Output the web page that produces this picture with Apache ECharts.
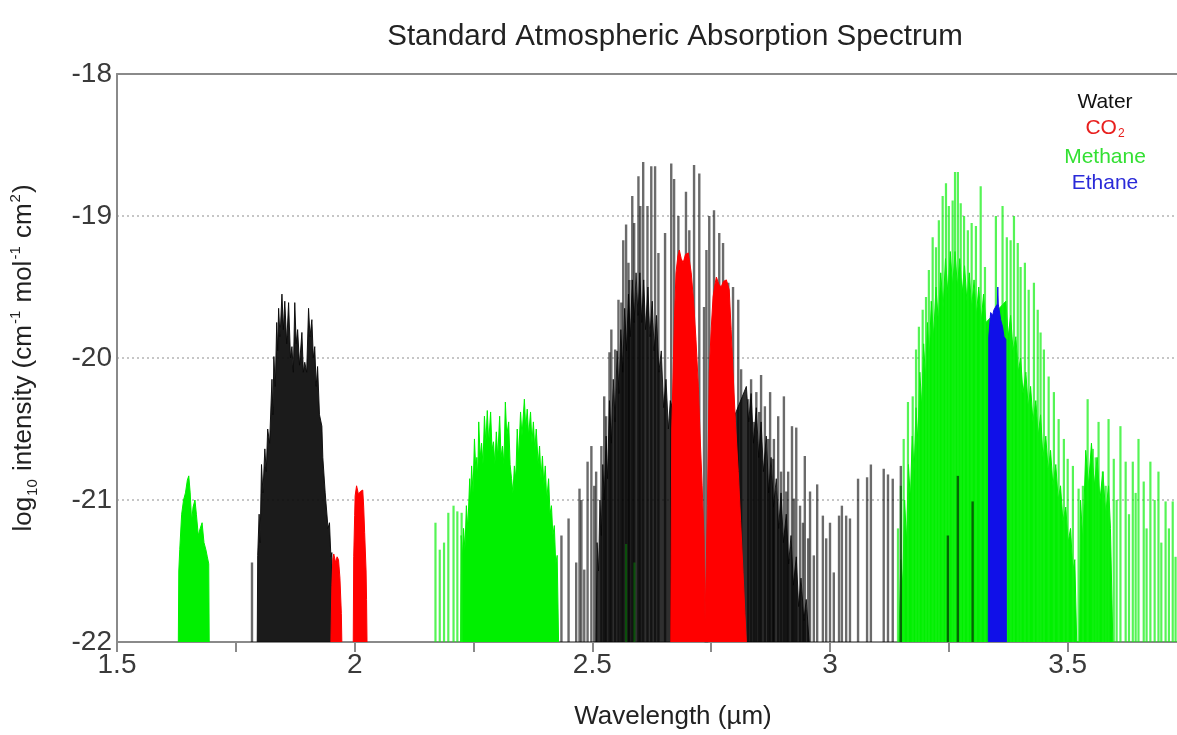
<!DOCTYPE html>
<html>
<head>
<meta charset="utf-8">
<script src="https://cdn.jsdelivr.net/npm/echarts@6/dist/echarts.min.js"></script>
<style>
html,body{margin:0;padding:0;background:#fff;}
#chart{width:1177px;height:735px;}
</style>
</head>
<body>
<div id="chart"></div>
<script>
// ---------- DATA (wavelength in µm, log10 intensity) ----------
var xTickValues = [1.5, 1.75, 2, 2.25, 2.5, 2.75, 3, 3.25, 3.5];
var xLabelValues = [1.5, 2, 2.5, 3, 3.5];
var yTickValues = [-22, -21, -20, -19, -18];

// Water: dense band near 1.85 µm (envelope of the blended lines)
var waterBand1 = [[1.795,-22],[1.796,-21.39],[1.799,-21.1],[1.801,-21.3],[1.804,-20.75],[1.807,-20.95],[1.811,-20.64],[1.814,-20.8],[1.817,-20.5],[1.821,-20.6],[1.826,-20.15],[1.828,-20.4],[1.830,-19.99],[1.833,-20.2],[1.836,-19.75],[1.838,-19.95],[1.840,-19.65],[1.843,-19.85],[1.847,-19.55],[1.850,-19.8],[1.853,-19.6],[1.857,-19.9],[1.861,-19.61],[1.865,-20.0],[1.868,-19.92],[1.871,-20.1],[1.874,-19.61],[1.877,-19.9],[1.880,-19.8],[1.884,-20.05],[1.889,-19.82],[1.892,-20.1],[1.895,-20.03],[1.899,-20.1],[1.903,-19.65],[1.906,-19.85],[1.910,-19.73],[1.913,-20.0],[1.916,-19.92],[1.919,-20.2],[1.922,-20.06],[1.926,-20.4],[1.931,-20.48],[1.933,-20.7],[1.935,-20.69],[1.938,-20.95],[1.941,-20.95],[1.944,-21.2],[1.947,-21.16],[1.950,-21.4],[1.952,-21.37],[1.954,-22]];
// Water: dense core of the 2.7 µm band
var waterBand2 = [[2.508,-22],[2.510,-21.3],[2.513,-21.5],[2.516,-21.0],[2.519,-21.25],[2.522,-20.75],[2.525,-21.0],[2.529,-20.55],[2.532,-20.85],[2.536,-20.3],[2.540,-20.6],[2.544,-20.15],[2.548,-20.45],[2.552,-19.95],[2.556,-20.25],[2.560,-19.8],[2.564,-20.1],[2.568,-19.65],[2.572,-19.95],[2.576,-19.55],[2.580,-19.85],[2.584,-19.45],[2.588,-19.75],[2.592,-19.4],[2.596,-19.7],[2.600,-19.4],[2.604,-19.75],[2.608,-19.45],[2.612,-19.8],[2.617,-19.5],[2.621,-19.85],[2.626,-19.6],[2.630,-19.95],[2.635,-19.7],[2.640,-20.1],[2.645,-19.95],[2.650,-20.35],[2.655,-20.15],[2.660,-20.5],[2.664,-20.3],[2.690,-20.6],[2.730,-21.6],[2.736,-22],[2.744,-22],[2.760,-21.0],[2.800,-20.4],[2.824,-20.2],[2.829,-20.45],[2.834,-20.25],[2.839,-20.6],[2.845,-20.35],[2.850,-20.7],[2.855,-20.45],[2.860,-20.8],[2.866,-20.55],[2.871,-20.95],[2.876,-20.7],[2.881,-21.05],[2.887,-20.85],[2.892,-21.2],[2.897,-20.95],[2.902,-21.3],[2.908,-21.1],[2.913,-21.45],[2.918,-21.25],[2.923,-21.6],[2.929,-21.4],[2.934,-21.75],[2.939,-21.55],[2.945,-21.85],[2.950,-21.7],[2.956,-22]];
// Water: individual lines
var waterLines = [[1.784,-21.44],
[2.435,-21.25],[2.450,-21.13],[2.466,-21.44],[2.473,-20.92],[2.477,-21.0],[2.483,-21.49],[2.490,-20.73],[2.498,-20.62],[2.504,-20.9],[2.508,-20.80],[2.519,-20.62],[2.525,-20.27],[2.529,-20.41],[2.536,-19.96],[2.540,-19.80],[2.548,-19.94],[2.555,-19.59],[2.561,-19.61],[2.565,-19.17],[2.571,-19.06],[2.576,-19.33],[2.578,-19.45],[2.584,-18.86],[2.588,-19.05],[2.597,-18.72],[2.601,-18.93],[2.607,-18.62],[2.616,-18.93],[2.624,-18.65],[2.632,-18.65],[2.639,-19.26],[2.653,-19.12],[2.666,-18.63],[2.672,-18.74],[2.681,-19.0],[2.697,-18.83],[2.704,-19.10],[2.714,-18.64],[2.725,-18.70],[2.735,-19.64],[2.740,-19.24],[2.746,-19.0],[2.756,-18.96],[2.767,-19.12],[2.775,-19.19],[2.786,-19.47],[2.796,-19.50],[2.807,-19.59],[2.813,-20.08],[2.828,-20.29],[2.834,-20.15],[2.840,-20.45],[2.845,-20.24],[2.851,-20.38],[2.855,-20.12],[2.863,-20.34],[2.870,-20.57],[2.874,-20.24],[2.880,-20.71],[2.882,-20.57],[2.891,-20.41],[2.897,-20.8],[2.903,-20.27],[2.908,-20.94],[2.912,-20.80],[2.920,-20.48],[2.924,-20.99],[2.929,-20.49],[2.937,-21.04],[2.943,-21.16],[2.947,-20.69],[2.954,-21.27],[2.958,-20.94],[2.966,-21.39],[2.973,-20.89],[2.985,-21.11],[2.992,-21.27],[3.000,-21.16],[3.008,-21.51],[3.019,-21.11],[3.025,-21.04],[3.034,-21.11],[3.042,-21.13],[3.059,-20.85],[3.078,-20.84],[3.086,-20.75],[3.113,-20.78],[3.122,-20.82],[3.132,-20.85],[3.149,-20.76],
[3.248,-21.25],[3.269,-20.83],[3.300,-21.01]];

// CO2 bands
var co2Band1 = [[1.950,-22],[1.952,-21.6],[1.954,-21.42],[1.956,-21.38],[1.960,-21.44],[1.963,-21.40],[1.966,-21.42],[1.969,-21.55],[1.972,-21.8],[1.973,-22]];
var co2Band2 = [[1.997,-22],[1.998,-21.4],[2.000,-21.11],[2.001,-20.97],[2.004,-20.90],[2.008,-20.96],[2.012,-20.94],[2.017,-20.93],[2.019,-21.05],[2.021,-21.23],[2.024,-21.5],[2.025,-21.7],[2.026,-22]];
var co2Band3 = [[2.665,-22],[2.667,-20.5],[2.670,-20.10],[2.673,-19.7],[2.676,-19.40],[2.680,-19.28],[2.683,-19.24],[2.687,-19.3],[2.691,-19.33],[2.696,-19.27],[2.702,-19.26],[2.708,-19.40],[2.713,-19.6],[2.718,-19.87],[2.723,-20.2],[2.727,-20.57],[2.731,-20.9],[2.735,-21.27],[2.737,-21.86],[2.740,-21.4],[2.742,-21.04],[2.744,-20.6],[2.746,-20.10],[2.750,-19.8],[2.754,-19.57],[2.758,-19.48],[2.761,-19.43],[2.766,-19.48],[2.771,-19.50],[2.776,-19.46],[2.782,-19.45],[2.788,-19.52],[2.792,-19.8],[2.796,-20.10],[2.801,-20.45],[2.807,-20.80],[2.812,-21.15],[2.817,-21.51],[2.821,-21.8],[2.824,-22]];

// Methane bands (dense parts)
var methaneBand1 = [[1.629,-22],[1.630,-21.5],[1.632,-21.35],[1.636,-21.1],[1.640,-21.0],[1.644,-20.95],[1.648,-20.86],[1.651,-20.83],[1.654,-20.95],[1.657,-21.15],[1.660,-21.05],[1.664,-21.0],[1.667,-21.1],[1.671,-21.25],[1.675,-21.2],[1.679,-21.16],[1.683,-21.3],[1.687,-21.35],[1.690,-21.4],[1.693,-21.45],[1.694,-22]];
var methaneBand2 = [[2.223,-22],[2.224,-21.25],[2.227,-21.4],[2.229,-21.2],[2.232,-21.35],[2.235,-21.04],[2.238,-21.2],[2.242,-20.85],[2.244,-21.0],[2.246,-20.76],[2.249,-20.95],[2.252,-20.57],[2.255,-20.8],[2.257,-20.7],[2.259,-20.85],[2.261,-20.45],[2.264,-20.7],[2.267,-20.6],[2.270,-20.75],[2.273,-20.41],[2.276,-20.6],[2.279,-20.37],[2.282,-20.6],[2.286,-20.38],[2.289,-20.65],[2.292,-20.59],[2.295,-20.75],[2.298,-20.52],[2.301,-20.7],[2.305,-20.41],[2.308,-20.7],[2.311,-20.62],[2.314,-20.75],[2.317,-20.31],[2.320,-20.55],[2.324,-20.45],[2.327,-20.75],[2.330,-20.85],[2.333,-20.95],[2.336,-20.76],[2.339,-20.85],[2.342,-20.5],[2.345,-20.7],[2.349,-20.38],[2.352,-20.55],[2.357,-20.29],[2.360,-20.5],[2.363,-20.36],[2.366,-20.55],[2.370,-20.38],[2.373,-20.6],[2.376,-20.45],[2.379,-20.65],[2.382,-20.5],[2.386,-20.75],[2.389,-20.62],[2.392,-20.85],[2.395,-20.69],[2.398,-20.9],[2.401,-20.76],[2.404,-21.0],[2.408,-20.85],[2.411,-21.1],[2.414,-21.04],[2.417,-21.25],[2.420,-21.18],[2.423,-21.45],[2.426,-21.39],[2.429,-22]];
var methaneBand3 = [[3.145,-22],[3.149,-21.42],[3.153,-21.6],[3.157,-21.0],[3.161,-21.3],[3.165,-20.75],[3.169,-21.0],[3.173,-20.55],[3.177,-20.8],[3.181,-20.35],[3.185,-20.6],[3.189,-20.1],[3.193,-20.35],[3.197,-19.9],[3.201,-20.15],[3.205,-19.75],[3.209,-20.0],[3.213,-19.6],[3.218,-19.85],[3.223,-19.5],[3.228,-19.75],[3.233,-19.4],[3.238,-19.65],[3.243,-19.3],[3.248,-19.55],[3.253,-19.25],[3.258,-19.5],[3.263,-19.25],[3.268,-19.5],[3.273,-19.3],[3.278,-19.55],[3.283,-19.35],[3.288,-19.6],[3.293,-19.4],[3.298,-19.65],[3.303,-19.45],[3.308,-19.7],[3.313,-19.5],[3.318,-19.75],[3.323,-19.55],[3.328,-19.75],[3.370,-19.6],[3.375,-19.85],[3.380,-19.7],[3.385,-19.95],[3.391,-19.85],[3.396,-20.1],[3.401,-20.0],[3.406,-20.25],[3.412,-20.1],[3.417,-20.35],[3.422,-20.2],[3.427,-20.45],[3.433,-20.3],[3.438,-20.55],[3.443,-20.4],[3.448,-20.7],[3.454,-20.55],[3.459,-20.8],[3.464,-20.65],[3.469,-20.9],[3.475,-20.75],[3.480,-21.0],[3.485,-20.9],[3.490,-21.15],[3.496,-21.05],[3.501,-21.3],[3.506,-21.2],[3.511,-21.5],[3.515,-21.42],[3.519,-22],[3.525,-22],[3.527,-21.0],[3.532,-21.3],[3.538,-20.65],[3.544,-20.9],[3.550,-20.6],[3.556,-20.9],[3.562,-20.7],[3.568,-21.0],[3.574,-20.8],[3.580,-21.1],[3.586,-20.9],[3.590,-21.2],[3.595,-22]];
// Methane: individual lines
var methaneLines = [[2.170,-21.16],[2.179,-21.35],[2.188,-21.30],[2.197,-21.09],[2.208,-21.04],[2.216,-21.08],[2.225,-21.09],
[2.571,-21.31],[2.588,-21.44],
[3.143,-21.2],[3.149,-20.9],[3.155,-20.57],[3.164,-20.31],[3.174,-20.27],[3.181,-19.94],[3.187,-19.78],[3.195,-19.66],[3.202,-19.57],[3.208,-19.38],[3.216,-19.15],[3.223,-19.22],[3.229,-19.03],[3.237,-18.86],[3.244,-18.77],[3.250,-18.93],[3.258,-18.89],[3.263,-18.69],[3.269,-18.69],[3.275,-18.91],[3.282,-19.0],[3.290,-19.10],[3.298,-19.05],[3.307,-19.07],[3.317,-18.79],[3.326,-19.36],[3.349,-19.0],[3.363,-18.93],[3.372,-19.15],[3.380,-19.17],[3.387,-19.0],[3.395,-19.19],[3.401,-19.36],[3.410,-19.33],[3.418,-19.52],[3.429,-19.47],[3.437,-19.66],[3.443,-19.82],[3.450,-19.94],[3.460,-20.13],[3.471,-20.24],[3.481,-20.43],[3.492,-20.57],[3.500,-20.71],[3.511,-20.76],[3.523,-20.92],[3.532,-20.9],[3.542,-20.29],[3.553,-20.64],[3.559,-20.7],[3.565,-20.45],[3.574,-20.80],[3.580,-20.9],[3.586,-20.43],[3.597,-20.71],[3.603,-21.0],[3.611,-20.48],[3.622,-20.73],[3.629,-21.1],[3.637,-20.73],[3.643,-20.95],[3.649,-20.57],[3.660,-20.87],[3.666,-21.2],[3.674,-20.73],[3.683,-21.0],[3.691,-20.80],[3.697,-21.3],[3.706,-21.01],[3.713,-21.2],[3.721,-21.01],[3.727,-21.4]];

// Ethane band
var ethaneBand = [[3.333,-22],[3.334,-19.85],[3.338,-19.68],[3.342,-19.70],[3.345,-19.66],[3.349,-19.67],[3.352,-19.62],[3.353,-19.50],[3.354,-19.62],[3.359,-19.73],[3.363,-19.78],[3.366,-19.85],[3.370,-19.87],[3.371,-22]];

// ---------- CHART ----------
var FONT = '"Liberation Sans", Arial, Helvetica, sans-serif';
var Y_MIN = -22, Y_MAX = -18, X_MIN = 1.5, X_MAX = 3.73;
var FRAME = '#8a8a8a';

function stickRenderer(width) {
  return function (params, api) {
    var x = api.value(0), y = api.value(1);
    var top = api.coord([x, y]);
    var bot = api.coord([x, Y_MIN]);
    return {
      type: 'line',
      shape: { x1: top[0], y1: top[1], x2: bot[0], y2: bot[1] },
      style: { stroke: api.visual('color'), lineWidth: width }
    };
  };
}
function bandSeries(name, data, color, z, opacity) {
  return {
    name: name, type: 'line', data: data, z: z,
    showSymbol: false, symbol: 'none', silent: true,
    lineStyle: { width: 1, color: color, opacity: opacity },
    itemStyle: { color: color },
    areaStyle: { color: color, opacity: opacity, origin: 'start' }
  };
}
function stickSeries(name, data, color, z, width) {
  return {
    name: name, type: 'custom', data: data, z: z, silent: true,
    encode: { x: 0, y: 1 }, clip: true,
    itemStyle: { color: color },
    renderItem: stickRenderer(width)
  };
}

var chart = echarts.init(document.getElementById('chart'), null, { renderer: 'canvas' });
chart.setOption({
  animation: false,
  backgroundColor: '#ffffff',
  textStyle: { fontFamily: FONT },
  title: [{
    text: 'Standard Atmospheric Absorption Spectrum',
    left: 670, top: 17, textAlign: 'center',
    textStyle: { fontFamily: FONT, fontSize: 29.5, fontWeight: 'normal', color: '#222' }
  }],
  grid: { left: 115, top: 74, bottom: 92, right: 0 },
  xAxis: [{
    type: 'value', min: X_MIN, max: X_MAX, interval: 0.25,
    name: 'Wavelength (µm)', nameLocation: 'middle', nameGap: 62,
    nameTextStyle: { fontFamily: FONT, fontSize: 26, color: '#222', padding: [0, 0, 0, 52] },
    axisLine: { show: true, onZero: false, lineStyle: { color: FRAME, width: 2 } },
    axisTick: { show: true, inside: false, length: 10, customValues: xTickValues, lineStyle: { color: FRAME, width: 2 } },
    axisLabel: { customValues: xLabelValues, fontFamily: FONT, fontSize: 28, color: '#3a3a3a', margin: 9,
      formatter: function (v) { return String(v); } },
    splitLine: { show: false }
  }, {
    type: 'value', min: X_MIN, max: X_MAX, position: 'top',
    axisLine: { show: true, onZero: false, lineStyle: { color: FRAME, width: 2 } },
    axisTick: { show: false }, axisLabel: { show: false }, splitLine: { show: false }
  }],
  yAxis: {
    type: 'value', min: Y_MIN, max: Y_MAX, interval: 1,
    name: '{m|log}{s|10}{m| intensity (cm}{p|-1}{m| mol}{p|-1}{m| cm}{p|2}{m|)}',
    nameLocation: 'middle', nameGap: 77, nameRotate: 90,
    nameTextStyle: {
      fontFamily: FONT, color: '#222',
      rich: {
        m: { fontFamily: FONT, fontSize: 26, color: '#222', lineHeight: 32 },
        s: { fontFamily: FONT, fontSize: 15, color: '#222', verticalAlign: 'bottom', lineHeight: 32, padding: [0, 1, 0, 1] },
        p: { fontFamily: FONT, fontSize: 15, color: '#222', verticalAlign: 'top', lineHeight: 32, padding: [0, 1, 0, 1] }
      }
    },
    axisLine: { show: true, onZero: false, lineStyle: { color: FRAME, width: 2 } },
    axisTick: { show: false },
    axisLabel: { customValues: yTickValues, fontFamily: FONT, fontSize: 28, color: '#3a3a3a', margin: 5 },
    splitLine: { show: true, lineStyle: { color: '#b4b4b4', width: 1.5, type: [2, 3] } }
  },
  graphic: [
    { type: 'text', x: 1105, y: 102, z: 100, style: { text: 'Water', fontFamily: FONT, fontSize: 21, fill: '#111', align: 'center', verticalAlign: 'middle' } },
    { type: 'text', x: 1105, y: 128, z: 100, style: { text: '{a|CO}{b|2}', fontFamily: FONT, fontSize: 21, fill: '#e8201e', align: 'center', verticalAlign: 'middle',
        rich: { a: { fontFamily: FONT, fontSize: 21, fill: '#e8201e', lineHeight: 24 }, b: { fontFamily: FONT, fontSize: 12, fill: '#e8201e', verticalAlign: 'bottom', lineHeight: 24, padding: [10, 0, 0, 1] } } } },
    { type: 'text', x: 1105, y: 157, z: 100, style: { text: 'Methane', fontFamily: FONT, fontSize: 21, fill: '#33e033', align: 'center', verticalAlign: 'middle' } },
    { type: 'text', x: 1105, y: 183, z: 100, style: { text: 'Ethane', fontFamily: FONT, fontSize: 21, fill: '#2a2ad8', align: 'center', verticalAlign: 'middle' } }
  ],
  series: [
    bandSeries('Water', waterBand1, '#0a0a0a', 2, 0.93),
    bandSeries('Water', waterBand2, '#0a0a0a', 2, 0.85),
    bandSeries('Methane', methaneBand1, '#00f000', 3, 1),
    bandSeries('Methane', methaneBand2, '#00f000', 3, 1),
    bandSeries('Methane', methaneBand3, '#00f000', 3, 1),
    stickSeries('Methane', methaneLines, 'rgba(20,240,20,0.72)', 4, 2.2),
    stickSeries('Water', waterLines, 'rgba(0,0,0,0.58)', 5, 2.4),
    bandSeries('CO2', co2Band1, '#ff0000', 6, 1),
    bandSeries('CO2', co2Band2, '#ff0000', 6, 1),
    bandSeries('CO2', co2Band3, '#ff0000', 6, 1),
    bandSeries('Ethane', ethaneBand, '#1010e8', 7, 1)
  ]
});
</script>
</body>
</html>
